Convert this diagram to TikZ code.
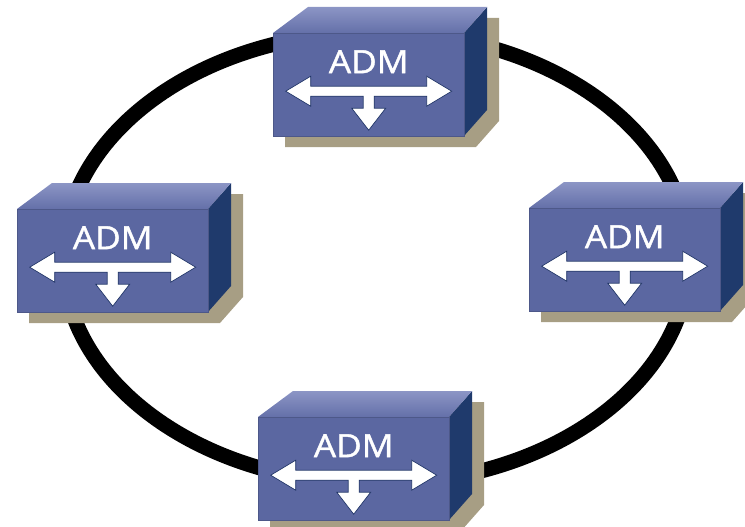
\documentclass[tikz,border=0pt]{standalone}
\usepackage{fontspec}
\newfontfamily\admfont{Open Sans}[FakeBold=1.2]
\usepackage{tikz}
\definecolor{admfront}{HTML}{5B67A1}
\definecolor{admtop}{HTML}{8C95C5}
\definecolor{admtopfront}{HTML}{6470A9}
\definecolor{admside}{HTML}{1F3A6C}
\definecolor{admshadow}{HTML}{A79E84}
\definecolor{admline}{HTML}{1E3366}

\begin{document}
\begin{tikzpicture}[x=1pt, y=-1pt,
    adm/.style = {fill=admfront, draw=admfront!85!black, line width=0.4pt,
      minimum width=191pt, minimum height=103pt, inner sep=0pt},
    admtext/.style = {text=white, font=\admfont\fontsize{32}{32}\selectfont,
      inner sep=0pt, xscale=1.1},
    ring/.style = {line width=15pt},
    pointer/.style = {fill=white, draw=admline, line width=0.7pt}]
  \useasboundingbox (0,0) rectangle (745,527);
  % Ring
  \coordinate (c) at (376,258);
  \draw[ring] (c) ellipse [x radius=313, y radius=226];
  % Nodes
  \foreach \n/\x/\y in {1/273/33, 2/17/209, 3/529/208, 4/258/417} {
    \fill[admshadow] (\x+12,\y+11) -- ++(35,-26) -- ++(179,0) -- ++(0,103)
      -- ++(-23,26) -- ++(-191,0) -- cycle;
    \fill[admside] (\x+191,\y) -- ++(23,-26) -- ++(0,103) -- ++(-23,26) -- cycle;
    \shade[top color=admtop, bottom color=admtopfront] (\x,\y) -- ++(35,-26)
      -- ++(179,0) -- ++(-23,26) -- cycle;
    \node[adm, anchor=north west] (\n) at (\x,\y) {};
    \node[admtext] (t\n) at ([yshift=23pt]\n.center) {ADM};
    \draw[pointer] ([shift={(-83,6.5)}]\n.center) -- ++(25,-15) -- ++(0,10)
      -- ++(116,0) -- ++(0,-10) -- ++(25,15) -- ++(-25,15) -- ++(0,-10)
      -- ++(-52.5,0) -- ++(0,12) -- ++(11.5,0) -- ++(-17,22) -- ++(-17,-22)
      -- ++(11.5,0) -- ++(0,-12) -- ++(-52.5,0) -- ++(0,10) -- cycle;
  }
\end{tikzpicture}
\end{document}
